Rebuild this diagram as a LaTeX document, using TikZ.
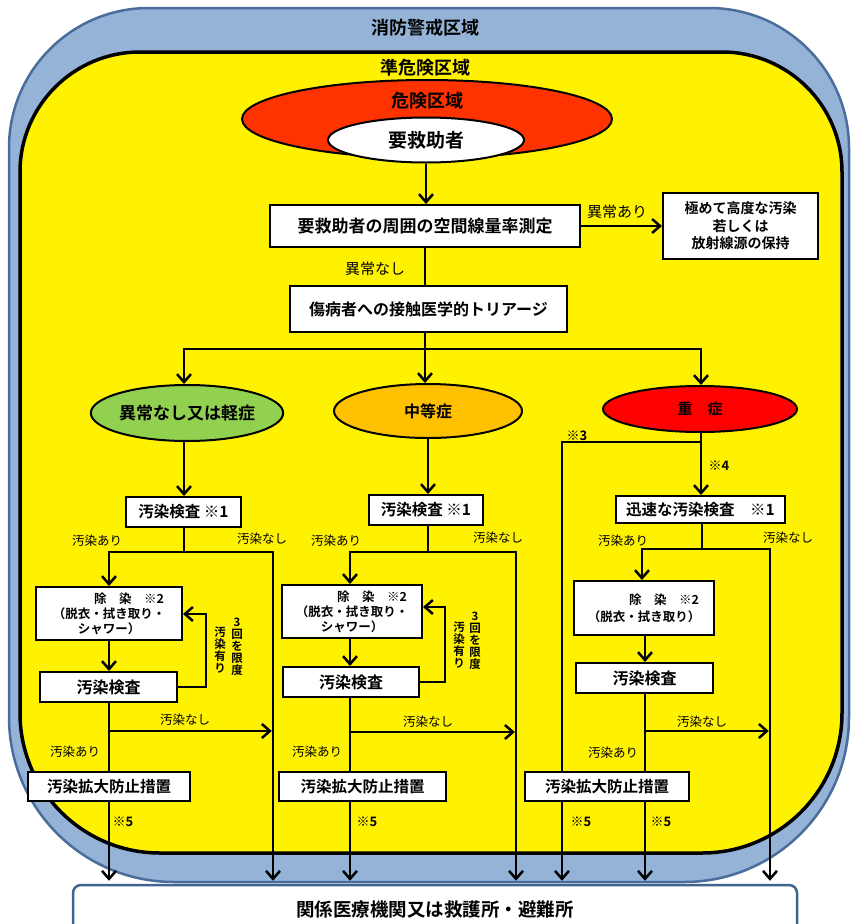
\documentclass[tikz,border=0pt]{standalone}
\usepackage{fontspec}
\setmainfont{Noto Sans CJK JP}[BoldFont={Noto Sans CJK JP Bold}]
\usetikzlibrary{arrows.meta,shapes.geometric}
\definecolor{zoneblue}{HTML}{95B3D7}
\definecolor{zoneedge}{HTML}{4A6D9B}
\definecolor{dangerred}{HTML}{FF3300}
\definecolor{mildgreen}{HTML}{92D050}
\definecolor{modorange}{HTML}{FFC000}
\definecolor{severered}{HTML}{FF0000}
\definecolor{botedge}{HTML}{41648F}
\pgfdeclarelayer{zone}
\pgfdeclarelayer{lines}
\pgfsetlayers{zone,lines,main}
\begin{document}
\begin{tikzpicture}[x=1pt,y=-1pt,
  fs/.style={font=\fontsize{#1}{#1}\selectfont},
  bfs/.style 2 args={font=\bfseries\fontsize{#1}{#2}\selectfont},
  box/.style={draw, fill=white, line width=2pt, inner sep=0pt, align=center},
  sz/.style 2 args={minimum width=#1pt, minimum height=#2pt},
  oval/.style={ellipse, draw, line width=2pt, inner sep=0pt},
  conn/.style={line width=2.5pt},
  arr/.style={line width=2.5pt, -{Straight Barb[length=8pt,width=14pt]}},
  lbl/.style={inner sep=0pt},
  vt/.style={inner sep=0pt, align=center, font=\bfseries\fontsize{11.5}{12}\selectfont},
]
\useasboundingbox (0,0) rectangle (851,924);

\begin{pgfonlayer}{zone}
\filldraw[fill=zoneblue, draw=zoneedge, line width=2.5pt]
  (430,8) [rounded corners=140pt] -| (849,445) [rounded corners=165pt] |- (430,882)
  -| (9,445) [rounded corners=140pt] |- (445,8);
\filldraw[fill=yellow, draw=black, line width=3.5pt]
  (431,52) [rounded corners=120pt] -| (842,450) [rounded corners=140pt] |- (431,853)
  -| (20,450) [rounded corners=120pt] |- (446,52);
\end{pgfonlayer}

% titles
\node[lbl, bfs={18}{18}] (t1) at (425,28) {消防警戒区域};
\node[lbl, bfs={18}{18}] (t2) at (425,68) {準危険区域};
\node[oval, fill=dangerred, sz={370}{78}] (dz) at (427,119) {};
\node[lbl, bfs={18}{18}] (t3) at (427,101) {危険区域};
\node[oval, fill=white, sz={196}{45}, bfs={19}{19}] (pt) at (426,140) {要救助者};

% upper boxes
\node[box, sz={310}{42}, bfs={17}{17}] (meas) at (425,226) {要救助者の周囲の空間線量率測定};
\node[box, sz={155}{66}, bfs={14}{17.5}] (ext) at (740.5,226) {極めて高度な汚染\\若しくは\\放射線源の保持};
\node[box, sz={277}{46}, bfs={16}{16}] (tri) at (428.5,309) {傷病者への接触医学的トリアージ};

% triage ellipses
\node[oval, fill=mildgreen, sz={184}{56}, bfs={17}{17}] (e1) at (187,413) {異常なし又は軽症};
\node[oval, fill=modorange, sz={188}{54}, bfs={16}{16}] (e2) at (428,411) {中等症};
\node[oval, fill=severered, sz={194}{46}, bfs={15}{15}] (e3) at (700,409) {重　症};

% first checks
\node[box, sz={115}{30}, bfs={15.5}{15.5}] (c1L) at (183.5,512) {汚染検査 ※1};
\node[box, sz={114}{30}, bfs={15.5}{15.5}] (c1M) at (426,510) {汚染検査 ※1};
\node[box, sz={169}{27}, bfs={15.5}{15.5}] (c1R) at (700.5,509.5) {迅速な汚染検査　※1};

% decontamination
\node[box, sz={146}{53}, bfs={12.5}{15}] (dL) at (109,613.5) {\hspace*{40pt}除　染　※2\\（脱衣・拭き取り・\\シャワー）};
\node[box, sz={140}{53}, bfs={12.5}{15}] (dM) at (352,611.5) {\hspace*{40pt}除　染　※2\\（脱衣・拭き取り・\\シャワー）};
\node[box, sz={140}{54}, bfs={12.5}{17}] (dR) at (644,608) {\hspace*{40pt}除　染　※2\\（脱衣・拭き取り）};

% second checks
\node[box, sz={137}{30}, bfs={16}{16}] (c2L) at (108.5,687) {汚染検査};
\node[box, sz={136}{30}, bfs={16}{16}] (c2M) at (351,682) {汚染検査};
\node[box, sz={137}{30}, bfs={16}{16}] (c2R) at (644.5,678) {汚染検査};

% prevention
\node[box, sz={162}{29}, bfs={15.5}{15.5}] (pL) at (109,786.5) {汚染拡大防止措置};
\node[box, sz={167}{29}, bfs={15.5}{15.5}] (pM) at (362.5,786.5) {汚染拡大防止措置};
\node[box, sz={164}{29}, bfs={15.5}{15.5}] (pR) at (607,786.5) {汚染拡大防止措置};

% destination
\node[box, draw=botedge, line width=2.5pt, rounded corners=8pt, sz={724}{50}, bfs={18.5}{18.5}] (bot) at (435,910) {関係医療機関又は救護所・避難所};

% labels
\node[lbl, fs={15}] (la1) at (617,212) {異常あり};
\node[lbl, fs={15}] (la2) at (375,269) {異常なし};
\node[lbl, fs={12.5}] (lo1) at (97,541) {汚染あり};
\node[lbl, fs={12.5}] (lo2) at (336,541) {汚染あり};
\node[lbl, fs={12.5}] (lo3) at (623,541) {汚染あり};
\node[lbl, fs={12.5}] (ln1) at (262,539) {汚染なし};
\node[lbl, fs={12.5}] (ln2) at (498,538) {汚染なし};
\node[lbl, fs={12.5}] (ln3) at (788,538) {汚染なし};
\node[lbl, fs={12.5}] (ln4) at (185,720) {汚染なし};
\node[lbl, fs={12.5}] (ln5) at (428,722) {汚染なし};
\node[lbl, fs={12.5}] (ln6) at (702,722) {汚染なし};
\node[lbl, fs={12.5}] (lo4) at (75,752) {汚染あり};
\node[lbl, fs={12.5}] (lo5) at (317,752) {汚染あり};
\node[lbl, fs={12.5}] (lo6) at (613,753) {汚染あり};
\node[lbl, bfs={13}{13}] (n3) at (577,436) {※3};
\node[lbl, bfs={13}{13}] (n4) at (719,466) {※4};
\node[lbl, bfs={13}{13}] (n5a) at (123,822) {※5};
\node[lbl, bfs={13}{13}] (n5b) at (367,822) {※5};
\node[lbl, bfs={13}{13}] (n5c) at (581,822) {※5};
\node[lbl, bfs={13}{13}] (n5d) at (661,822) {※5};
\node[vt] (v1) at (237,647) {3\\回\\を\\限\\度};
\node[vt] (v2) at (220,650) {汚\\染\\有\\り};
\node[vt] (v3) at (475,641) {3\\回\\を\\限\\度};
\node[vt] (v4) at (459,645) {汚\\染\\有\\り};

% branch coordinates
\coordinate (sp) at (425,349);
\coordinate (spL) at (184,349);
\coordinate (spR) at (701,349);
\coordinate (bL) at (184,552);
\coordinate (bLl) at (109,552);
\coordinate (bLr) at (273,552);
\coordinate (lpL) at (206,614);
\coordinate (nL) at (109,731);
\coordinate (bM) at (428,552);
\coordinate (bMl) at (350,552);
\coordinate (bMr) at (516,552);
\coordinate (lpM) at (445,607);
\coordinate (nM) at (350,732);
\coordinate (s3) at (701,442);
\coordinate (s3l) at (562,442);
\coordinate (bR) at (702,549);
\coordinate (bRl) at (642,549);
\coordinate (bRr) at (770,549);
\coordinate (nR) at (645,731);

\begin{pgfonlayer}{lines}
% top flow
\draw[arr] (pt.south) -- (pt.south |- meas.north);
\draw[arr] (meas.east) -- (ext.west);
\draw[conn] (meas.south) -- (meas.south |- tri.north);
\draw[arr] (tri.south -| sp) |- (spL) -- (spL |- e1.north);
\draw[arr] (sp) -- (sp |- e2.north);
\draw[arr] (sp) -| (spR |- e3.north);

% left column
\draw[arr] (e1.south -| bL) -- (bL |- c1L.north);
\draw[arr] (c1L.south -| bL) -- (bL) -| (bLl |- dL.north);
\draw[arr, shorten >=3pt] (bL) -| (bLr |- bot.north);
\draw[arr] (bLl |- dL.south) -- (bLl |- c2L.north);
\draw[arr] (c2L.east) -| (lpL) -- (lpL -| dL.east);
\draw[conn] (bLl |- c2L.south) -- (bLl |- pL.north);
\draw[arr, shorten >=1.2pt] (nL) -- (nL -| bLr);
\draw[arr, shorten >=3pt] (bLl |- pL.south) -- (bLl |- bot.north);

% middle column
\draw[arr] (e2.south) -- (e2.south |- c1M.north);
\draw[arr] (c1M.south -| bM) -- (bM) -| (bMl |- dM.north);
\draw[arr, shorten >=3pt] (bM) -| (bMr |- bot.north);
\draw[arr] (bMl |- dM.south) -- (bMl |- c2M.north);
\draw[arr] (c2M.east) -| (lpM) -- (lpM -| dM.east);
\draw[conn] (bMl |- c2M.south) -- (bMl |- pM.north);
\draw[arr, shorten >=1.2pt] (nM) -- (nM -| bMr);
\draw[arr, shorten >=3pt] (bMl |- pM.south) -- (bMl |- bot.north);

% right column
\draw[arr] (e3.south -| s3) -- (s3 |- c1R.north);
\draw[arr, shorten >=3pt] (s3) -| (s3l |- bot.north);
\draw[arr] (c1R.south -| bR) -- (bR) -| (bRl |- dR.north);
\draw[arr, shorten >=3pt] (bR) -| (bRr |- bot.north);
\draw[arr] (nR |- dR.south) -- (nR |- c2R.north);
\draw[conn] (nR |- c2R.south) -- (nR |- pR.north);
\draw[arr, shorten >=1.2pt] (nR) -- (nR -| bRr);
\draw[arr, shorten >=3pt] (nR |- pR.south) -- (nR |- bot.north);
\end{pgfonlayer}
\end{tikzpicture}
\end{document}
